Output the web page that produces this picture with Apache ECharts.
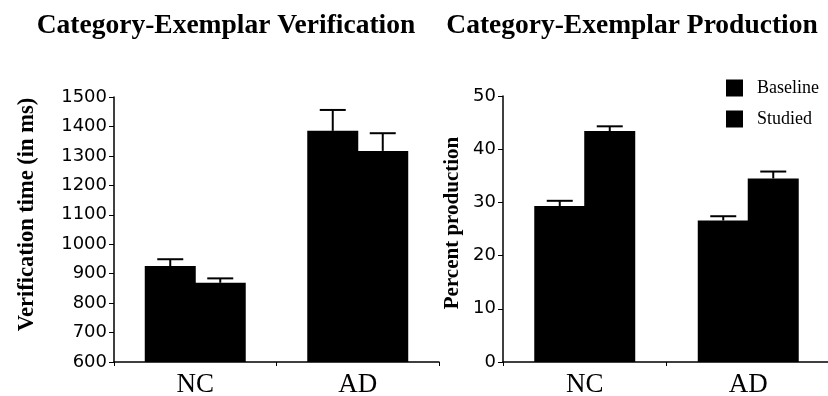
<!DOCTYPE html>
<html>
<head>
<meta charset="utf-8">
<script src="https://cdn.jsdelivr.net/npm/echarts@6/dist/echarts.min.js"></script>
<style>
  html, body { margin: 0; padding: 0; background: #fff; }
  #chart { width: 828px; height: 396px; }
</style>
</head>
<body>
<div id="chart"></div>
<script>
// data
var categories = ['NC', 'AD'];
var seriesNames = ['Baseline', 'Studied'];

var verifBaseline = [926, 1385];
var verifBaselineErr = [23, 71];
var verifStudied = [869, 1317];
var verifStudiedErr = [15, 60];

var prodBaseline = [29.3, 26.6];
var prodBaselineErr = [1.0, 0.8];
var prodStudied = [43.4, 34.5];
var prodStudiedErr = [0.9, 1.3];

var verifTicks = { min: 600, max: 1500, interval: 100 };
var prodTicks = { min: 0, max: 50, interval: 10 };

var BAR_W = 51;
var serif = '"Liberation Serif", "DejaVu Serif", serif';

// error bar items: [category index, value, error, offset side]
function errData(vals, errs, side) {
    var out = [];
    for (var i = 0; i < vals.length; i++) {
        out.push([i, vals[i], errs[i], side]);
    }
    return out;
}

function renderErr(params, api) {
    var cat = api.value(0);
    var v = api.value(1);
    var e = api.value(2);
    var side = api.value(3);
    var base = api.coord([cat, v]);
    var top = api.coord([cat, v + e]);
    var x = base[0] + side * (BAR_W - 1) / 2;
    var half = 13;
    return {
        type: 'group',
        children: [
            { type: 'line', shape: { x1: x, y1: base[1], x2: x, y2: top[1] },
              style: { stroke: '#000', lineWidth: 2 } },
            { type: 'line', shape: { x1: x - half, y1: top[1], x2: x + half, y2: top[1] },
              style: { stroke: '#000', lineWidth: 2 } }
        ]
    };
}

function xAxisFor(gridIndex) {
    return {
        type: 'category',
        gridIndex: gridIndex,
        data: categories,
        axisLine: { lineStyle: { color: '#000', width: 1.5 } },
        axisTick: { show: true, length: 4, lineStyle: { color: '#000' } },
        axisLabel: { color: '#000', fontFamily: serif, fontSize: 27, margin: 9 }
    };
}

function yAxisFor(gridIndex, ticks, name, gap, size, shift) {
    return {
        type: 'value',
        gridIndex: gridIndex,
        min: ticks.min,
        max: ticks.max,
        interval: ticks.interval,
        name: name,
        nameLocation: 'middle',
        nameRotate: 90,
        nameGap: gap,
        nameTextStyle: {
            color: '#000', fontFamily: serif, fontWeight: 'bold', fontSize: size,
            padding: [0, 0, 0, shift]
        },
        axisLine: { show: true, lineStyle: { color: '#000', width: 1.5 } },
        axisTick: { show: true, length: 5, lineStyle: { color: '#000' } },
        axisLabel: {
            color: '#000', fontFamily: '"DejaVu Sans", sans-serif', fontSize: 18, margin: 7,
            formatter: function(v) { return String(v); }
        },
        splitLine: { show: false }
    };
}

function barSeries(name, data, idx) {
    return {
        name: name,
        type: 'bar',
        xAxisIndex: idx,
        yAxisIndex: idx,
        data: data,
        barWidth: BAR_W,
        barGap: '-2%',
        itemStyle: { color: '#000' },
        silent: true
    };
}

function errSeries(vals, errs, side, idx) {
    return {
        type: 'custom',
        xAxisIndex: idx,
        yAxisIndex: idx,
        data: errData(vals, errs, side),
        renderItem: renderErr,
        z: 5,
        silent: true
    };
}

var myChart = echarts.init(document.getElementById('chart'));
var option = {
    animation: false,
    backgroundColor: '#fff',
    title: [
        { text: 'Category-Exemplar Verification', left: 221, top: 7, textAlign: 'center',
          textStyle: { fontFamily: serif, fontWeight: 'bold', fontSize: 27.5, color: '#000' } },
        { text: 'Category-Exemplar Production', left: 627, top: 7, textAlign: 'center',
          textStyle: { fontFamily: serif, fontWeight: 'bold', fontSize: 27.5, color: '#000' } }
    ],
    legend: {
        data: seriesNames,
        orient: 'vertical',
        left: 721,
        top: 74,
        icon: 'rect',
        itemWidth: 17,
        itemHeight: 17,
        itemGap: 13,
        textStyle: { fontFamily: serif, fontSize: 18, color: '#000', padding: [0, 0, 0, 9] }
    },
    grid: [
        { left: 114, top: 97, width: 325, height: 265, outerBoundsMode: 'none' },
        { left: 503, top: 96, width: 327, height: 266, outerBoundsMode: 'none' }
    ],
    xAxis: [xAxisFor(0), xAxisFor(1)],
    yAxis: [
        yAxisFor(0, verifTicks, 'Verification time (in ms)', 75, 22.5, 30),
        yAxisFor(1, prodTicks, 'Percent production', 40, 21, 12)
    ],
    series: [
        barSeries('Baseline', verifBaseline, 0),
        barSeries('Studied', verifStudied, 0),
        barSeries('Baseline', prodBaseline, 1),
        barSeries('Studied', prodStudied, 1),
        errSeries(verifBaseline, verifBaselineErr, -1, 0),
        errSeries(verifStudied, verifStudiedErr, 1, 0),
        errSeries(prodBaseline, prodBaselineErr, -1, 1),
        errSeries(prodStudied, prodStudiedErr, 1, 1)
    ]
};
myChart.setOption(option);
</script>
</body>
</html>
